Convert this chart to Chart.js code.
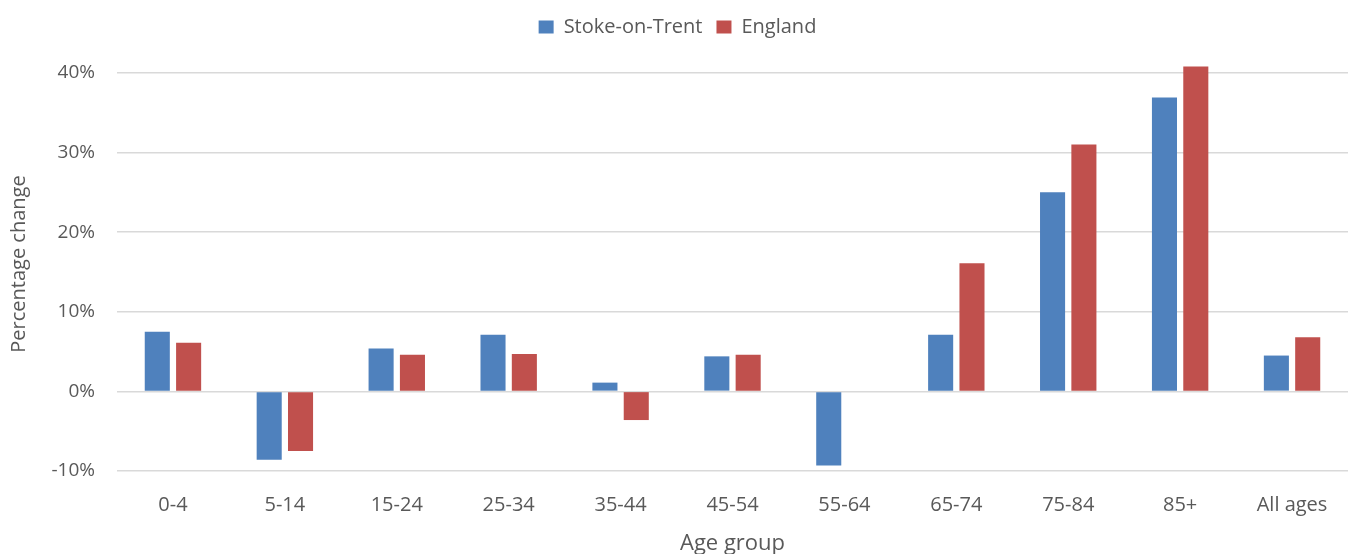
<!DOCTYPE html>
<html>
<head>
<meta charset="utf-8">
<script src="https://cdn.jsdelivr.net/npm/chart.js@4"></script>
<style>
  html, body { margin: 0; padding: 0; background: #fff; }
  #wrap { width: 1348px; height: 554px; }
</style>
</head>
<body>
<div id="wrap"><canvas id="grafico" width="1348" height="554"></canvas></div>
<script>
const categorias = ["0-4", "5-14", "15-24", "25-34", "35-44", "45-54", "55-64", "65-74", "75-84", "85+", "All ages"];
const stoke = [7.5, -8.6, 5.4, 7.1, 1.1, 4.4, -9.3, 7.1, 25.0, 36.9, 4.5];
const england = [6.1, -7.5, 4.6, 4.7, -3.6, 4.6, 0, 16.1, 31.0, 40.8, 6.8];
const yTicks = [-10, 0, 10, 20, 30, 40];

const corTexto = "#595959";
const fonte = "'Open Sans', 'Liberation Sans', sans-serif";

// espaço extra entre a legenda e a área do gráfico
const legendaGap = {
  id: "legendaGap",
  beforeInit(chart) {
    const fitOriginal = chart.legend.fit;
    chart.legend.fit = function () {
      fitOriginal.bind(chart.legend)();
      this.height += 10;
    };
  }
};

const ctx = document.getElementById("grafico").getContext("2d");
new Chart(ctx, {
  type: "bar",
  data: {
    labels: categorias,
    datasets: [
      { label: "Stoke-on-Trent", data: stoke, backgroundColor: "#4f81bd" },
      { label: "England", data: england, backgroundColor: "#c0504d" }
    ]
  },
  plugins: [legendaGap],
  options: {
    responsive: false,
    animation: false,
    layout: { padding: { top: 3, right: 0, left: 7, bottom: 0 } },
    datasets: { bar: { categoryPercentage: 0.56, barPercentage: 0.8 } },
    plugins: {
      legend: {
        position: "top",
        labels: {
          boxWidth: 15,
          boxHeight: 13,
          padding: 14,
          color: corTexto,
          font: { family: fonte, size: 20 }
        }
      },
      tooltip: { enabled: false }
    },
    scales: {
      x: {
        grid: { display: false },
        border: { display: false },
        ticks: { color: corTexto, font: { family: fonte, size: 20 }, padding: 14 },
        title: {
          display: true,
          text: "Age group",
          color: corTexto,
          font: { family: fonte, size: 22 },
          padding: { top: 7, bottom: -3 }
        },
        afterFit: (scale) => { scale.height = 83; }
      },
      y: {
        min: -10,
        max: 42,
        afterBuildTicks: (axis) => {
          axis.ticks = yTicks.map((v) => ({ value: v }));
        },
        grid: { color: "#d9d9d9", lineWidth: 1.5, drawTicks: false },
        border: { display: false },
        ticks: {
          color: corTexto,
          font: { family: fonte, size: 19 },
          padding: 22,
          callback: (v) => v + "%"
        },
        title: {
          display: true,
          text: "Percentage change",
          color: corTexto,
          font: { family: fonte, size: 20 },
          padding: { top: 0, bottom: 8 }
        },
        afterFit: (scale) => { scale.width = 110; }
      }
    }
  }
});
</script>
</body>
</html>
